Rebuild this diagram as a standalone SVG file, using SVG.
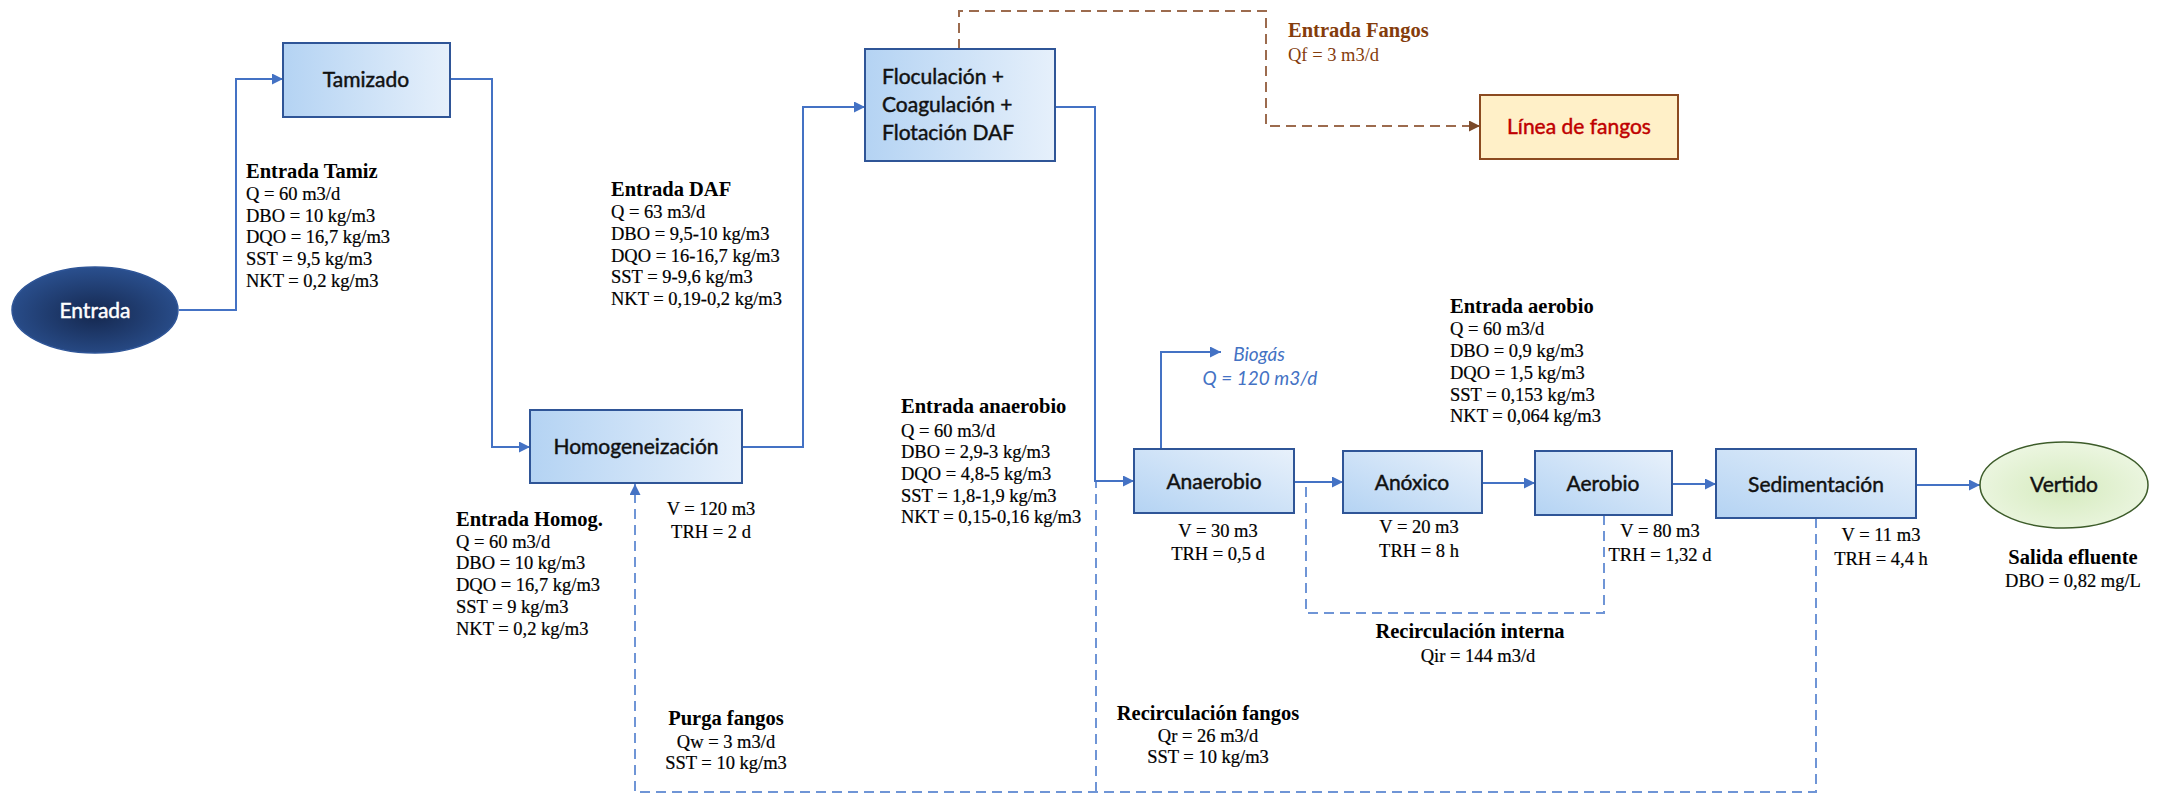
<svg xmlns="http://www.w3.org/2000/svg" width="2168" height="796" viewBox="0 0 2168 796">
  <style>
    .box { stroke: #2F5597; stroke-width: 2; }
    .lbl { font-family: Lato, "Liberation Sans", sans-serif; font-size: 21px; fill: #111; stroke: #111; stroke-width: 0.45; }
    .c { text-anchor: middle; }
    .ttl { font-family: "Liberation Serif", serif; font-size: 20.5px; font-weight: bold; fill: #000; }
    .dat { font-family: "Liberation Serif", serif; font-size: 18.5px; fill: #000; stroke: #000; stroke-width: 0.2; }
    .flow { fill: none; stroke: #4472C4; stroke-width: 2; }
    .dash { fill: none; stroke: #6F95D6; stroke-width: 2; stroke-dasharray: 10 6; }
    .sludge { fill: none; stroke: #9C6B4E; stroke-width: 2; stroke-dasharray: 10 6; }
    .brown { fill: #843C0C; stroke: none; }
    .bio { font-family: Lato, "Liberation Sans", sans-serif; font-style: italic; font-size: 19px; fill: #4472C4; text-anchor: middle; }
  </style>
  <defs>
    <linearGradient id="gH" x1="0" y1="0" x2="1" y2="0">
      <stop offset="0" stop-color="#B4D3F3"/>
      <stop offset="1" stop-color="#E6F0FB"/>
    </linearGradient>
    <linearGradient id="gD" x1="0" y1="1" x2="1" y2="0">
      <stop offset="0" stop-color="#B4D3F3"/>
      <stop offset="1" stop-color="#E8F1FB"/>
    </linearGradient>
    <radialGradient id="gEntrada" cx="0.5" cy="0.55" r="0.6">
      <stop offset="0" stop-color="#15284F"/>
      <stop offset="1" stop-color="#2C5394"/>
    </radialGradient>
    <radialGradient id="gVertido" cx="0.5" cy="0.55" r="0.6">
      <stop offset="0" stop-color="#D6EBBF"/>
      <stop offset="1" stop-color="#EEF7E4"/>
    </radialGradient>
    <marker id="arr" viewBox="0 0 10 10" refX="10" refY="5" markerWidth="11" markerHeight="11" markerUnits="userSpaceOnUse" orient="auto">
      <path d="M0,0 L10,5 L0,10 Z" fill="#4472C4"/>
    </marker>
    <marker id="arrB" viewBox="0 0 10 10" refX="10" refY="5" markerWidth="11" markerHeight="11" markerUnits="userSpaceOnUse" orient="auto">
      <path d="M0,0 L10,5 L0,10 Z" fill="#7B4A2A"/>
    </marker>
  </defs>

  <!-- connectors -->
  <g id="connectors">
    <path class="flow" d="M179,310 H236 V79 H283" marker-end="url(#arr)"/>
    <path class="flow" d="M450,79 H492 V447 H530" marker-end="url(#arr)"/>
    <path class="flow" d="M742,447 H803 V107 H865" marker-end="url(#arr)"/>
    <path class="flow" d="M1055,107 H1095 V481 H1134" marker-end="url(#arr)"/>
    <path class="flow" d="M1294,482 H1343" marker-end="url(#arr)"/>
    <path class="flow" d="M1482,483 H1535" marker-end="url(#arr)"/>
    <path class="flow" d="M1672,484 H1716" marker-end="url(#arr)"/>
    <path class="flow" d="M1916,485 H1980" marker-end="url(#arr)"/>
    <path class="flow" d="M1161,449 V352 H1221" marker-end="url(#arr)"/>
    <path class="sludge" d="M959,49 V11 H1266 V126 H1480" marker-end="url(#arrB)"/>
    <path class="dash" d="M1604,515 V613 H1306 V483"/>
    <path class="dash" d="M1816,518 V792 H635 V484" marker-end="url(#arr)"/>
    <path class="dash" d="M1096,792 V482"/>
  </g>

  <!-- process nodes -->
  <g id="entrada">
    <ellipse cx="95" cy="310" rx="83" ry="43" fill="url(#gEntrada)" stroke="#2F5597" stroke-width="1.5"/>
    <text class="lbl c" x="95" y="318" style="fill:#fff;stroke:#fff">Entrada</text>
  </g>
  <g id="tamizado">
    <rect class="box" x="283" y="43" width="167" height="74" fill="url(#gH)"/>
    <text class="lbl c" x="366" y="87">Tamizado</text>
  </g>
  <g id="homogeneizacion">
    <rect class="box" x="530" y="410" width="212" height="73" fill="url(#gH)"/>
    <text class="lbl c" x="636" y="454">Homogeneización</text>
  </g>
  <g id="daf">
    <rect class="box" x="865" y="49" width="190" height="112" fill="url(#gH)"/>
    <text class="lbl" x="882" y="84">Floculación +</text>
    <text class="lbl" x="882" y="112">Coagulación +</text>
    <text class="lbl" x="882" y="140">Flotación DAF</text>
  </g>
  <g id="linea-fangos">
    <rect x="1480" y="95" width="198" height="64" fill="#FFF0C8" stroke="#8B4A20" stroke-width="2"/>
    <text class="lbl c" x="1579" y="134" style="fill:#C00000;stroke:#C00000">Línea de fangos</text>
  </g>
  <g id="anaerobio">
    <rect class="box" x="1134" y="449" width="160" height="64" fill="url(#gD)"/>
    <text class="lbl c" x="1214" y="489">Anaerobio</text>
  </g>
  <g id="anoxico">
    <rect class="box" x="1343" y="451" width="139" height="62" fill="url(#gD)"/>
    <text class="lbl c" x="1412" y="490">Anóxico</text>
  </g>
  <g id="aerobio">
    <rect class="box" x="1535" y="451" width="137" height="64" fill="url(#gD)"/>
    <text class="lbl c" x="1603" y="491">Aerobio</text>
  </g>
  <g id="sedimentacion">
    <rect class="box" x="1716" y="449" width="200" height="69" fill="url(#gD)"/>
    <text class="lbl c" x="1816" y="492">Sedimentación</text>
  </g>
  <g id="vertido">
    <ellipse cx="2064" cy="485" rx="84" ry="43" fill="url(#gVertido)" stroke="#3D5C2A" stroke-width="1.5"/>
    <text class="lbl c" x="2064" y="492">Vertido</text>
  </g>

  <!-- stream data -->
  <g id="entrada-tamiz">
    <text class="ttl" x="246" y="178">Entrada Tamiz</text>
    <text class="dat" x="246" y="200">Q = 60 m3/d</text>
    <text class="dat" x="246" y="222">DBO = 10 kg/m3</text>
    <text class="dat" x="246" y="243">DQO = 16,7 kg/m3</text>
    <text class="dat" x="246" y="265">SST = 9,5 kg/m3</text>
    <text class="dat" x="246" y="287">NKT = 0,2 kg/m3</text>
  </g>
  <g id="entrada-daf">
    <text class="ttl" x="611" y="196">Entrada DAF</text>
    <text class="dat" x="611" y="218">Q = 63 m3/d</text>
    <text class="dat" x="611" y="240">DBO = 9,5-10 kg/m3</text>
    <text class="dat" x="611" y="262">DQO = 16-16,7 kg/m3</text>
    <text class="dat" x="611" y="283">SST = 9-9,6 kg/m3</text>
    <text class="dat" x="611" y="305">NKT = 0,19-0,2 kg/m3</text>
  </g>
  <g id="entrada-fangos">
    <text class="ttl brown" x="1288" y="37">Entrada Fangos</text>
    <text class="dat brown" x="1288" y="61">Qf = 3 m3/d</text>
  </g>
  <g id="entrada-homog">
    <text class="ttl" x="456" y="526">Entrada Homog.</text>
    <text class="dat" x="456" y="548">Q = 60 m3/d</text>
    <text class="dat" x="456" y="569">DBO = 10 kg/m3</text>
    <text class="dat" x="456" y="591">DQO = 16,7 kg/m3</text>
    <text class="dat" x="456" y="613">SST = 9 kg/m3</text>
    <text class="dat" x="456" y="635">NKT = 0,2 kg/m3</text>
  </g>
  <g id="homog-datos">
    <text class="dat c" x="711" y="515">V = 120 m3</text>
    <text class="dat c" x="711" y="538">TRH = 2 d</text>
  </g>
  <g id="entrada-anaerobio">
    <text class="ttl" x="901" y="413">Entrada anaerobio</text>
    <text class="dat" x="901" y="437">Q = 60 m3/d</text>
    <text class="dat" x="901" y="458">DBO = 2,9-3 kg/m3</text>
    <text class="dat" x="901" y="480">DQO = 4,8-5 kg/m3</text>
    <text class="dat" x="901" y="502">SST = 1,8-1,9 kg/m3</text>
    <text class="dat" x="901" y="523">NKT = 0,15-0,16 kg/m3</text>
  </g>
  <g id="biogas">
    <text class="bio" x="1259" y="361">Biogás</text>
    <text class="bio" x="1260" y="385">Q = 120 m3/d</text>
  </g>
  <g id="entrada-aerobio">
    <text class="ttl" x="1450" y="313">Entrada aerobio</text>
    <text class="dat" x="1450" y="335">Q = 60 m3/d</text>
    <text class="dat" x="1450" y="357">DBO = 0,9 kg/m3</text>
    <text class="dat" x="1450" y="379">DQO = 1,5 kg/m3</text>
    <text class="dat" x="1450" y="401">SST = 0,153 kg/m3</text>
    <text class="dat" x="1450" y="422">NKT = 0,064 kg/m3</text>
  </g>
  <g id="reactor-datos">
    <text class="dat c" x="1218" y="537">V = 30 m3</text>
    <text class="dat c" x="1218" y="560">TRH = 0,5 d</text>
    <text class="dat c" x="1419" y="533">V = 20 m3</text>
    <text class="dat c" x="1419" y="557">TRH = 8 h</text>
    <text class="dat c" x="1660" y="537">V = 80 m3</text>
    <text class="dat c" x="1660" y="561">TRH = 1,32 d</text>
    <text class="dat c" x="1881" y="541">V = 11 m3</text>
    <text class="dat c" x="1881" y="565">TRH = 4,4 h</text>
  </g>
  <g id="salida">
    <text class="ttl c" x="2073" y="564">Salida efluente</text>
    <text class="dat c" x="2073" y="587">DBO = 0,82 mg/L</text>
  </g>
  <g id="recirculacion-interna">
    <text class="ttl c" x="1470" y="638">Recirculación interna</text>
    <text class="dat c" x="1478" y="662">Qir = 144 m3/d</text>
  </g>
  <g id="purga">
    <text class="ttl c" x="726" y="725">Purga fangos</text>
    <text class="dat c" x="726" y="748">Qw = 3 m3/d</text>
    <text class="dat c" x="726" y="769">SST = 10 kg/m3</text>
  </g>
  <g id="recirculacion-fangos">
    <text class="ttl c" x="1208" y="720">Recirculación fangos</text>
    <text class="dat c" x="1208" y="742">Qr = 26 m3/d</text>
    <text class="dat c" x="1208" y="763">SST = 10 kg/m3</text>
  </g>
</svg>
